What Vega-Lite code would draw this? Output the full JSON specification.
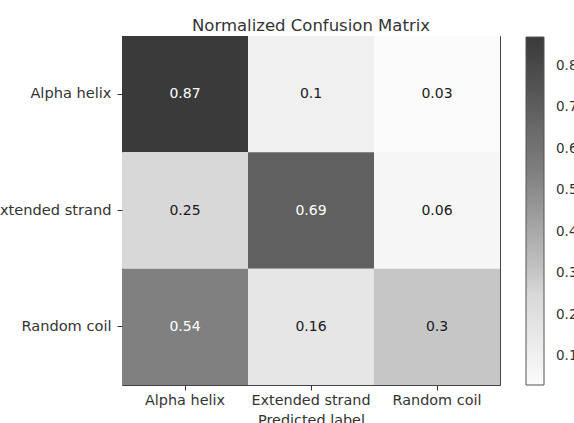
{
  "$schema": "https://vega.github.io/schema/vega-lite/v6.json",
  "autosize": {"type": "none"},
  "padding": {"left": 122, "top": 36, "right": 74, "bottom": 38},
  "width": 378,
  "height": 349,
  "background": "white",
  "title": {"text": "Normalized Confusion Matrix", "fontSize": 16.5, "fontWeight": "normal", "color": "#333333", "offset": 2, "font": "DejaVu Sans"},
  "data": {"values": [
    {"actual": "Alpha helix", "predicted": "Alpha helix", "value": 0.87},
    {"actual": "Alpha helix", "predicted": "Extended strand", "value": 0.1},
    {"actual": "Alpha helix", "predicted": "Random coil", "value": 0.03},
    {"actual": "Extended strand", "predicted": "Alpha helix", "value": 0.25},
    {"actual": "Extended strand", "predicted": "Extended strand", "value": 0.69},
    {"actual": "Extended strand", "predicted": "Random coil", "value": 0.06},
    {"actual": "Random coil", "predicted": "Alpha helix", "value": 0.54},
    {"actual": "Random coil", "predicted": "Extended strand", "value": 0.16},
    {"actual": "Random coil", "predicted": "Random coil", "value": 0.3}
  ]},
  "encoding": {
    "x": {"field": "predicted", "type": "nominal", "sort": ["Alpha helix", "Extended strand", "Random coil"],
      "scale": {"paddingInner": 0, "paddingOuter": 0},
      "axis": {"title": "Predicted label", "labelAngle": 0, "domain": false, "tickSize": 5, "tickColor": "#333333", "labelPadding": 3, "titlePadding": 7, "labelFontSize": 14.4, "titleFontSize": 14.4, "titleFontWeight": "normal", "labelColor": "#333333", "titleColor": "#333333"}},
    "y": {"field": "actual", "type": "nominal", "sort": ["Alpha helix", "Extended strand", "Random coil"],
      "scale": {"paddingInner": 0, "paddingOuter": 0},
      "axis": {"title": null, "domain": false, "tickSize": 5, "tickColor": "#333333", "labelPadding": 6, "labelFontSize": 14.6, "labelColor": "#333333", "labelLimit": 300}}
  },
  "layer": [
    {
      "mark": {"type": "rect"},
      "encoding": {
        "color": {"field": "value", "type": "quantitative",
          "scale": {"domain": [0.03, 0.16, 0.25, 0.3, 0.54, 0.87], "range": ["#fbfbfb", "#e6e6e6", "#d8d8d8", "#c6c6c6", "#808080", "#3a3a3a"], "interpolate": "rgb"},
          "legend": {"title": null, "orient": "none", "legendX": 404, "legendY": 1, "direction": "vertical", "gradientLength": 348, "gradientThickness": 18, "gradientStrokeColor": "#555555", "gradientStrokeWidth": 1, "values": [0.1, 0.2, 0.3, 0.4, 0.5, 0.6, 0.7, 0.8], "labelOffset": 12, "labelFontSize": 13.5, "labelColor": "#333333", "labelOverlap": false, "format": ".1f"}}
      }
    },
    {
      "mark": {"type": "text", "fontSize": 14},
      "encoding": {
        "text": {"field": "value", "type": "quantitative"},
        "color": {"condition": {"test": "datum.value > 0.435", "value": "#ffffff"}, "value": "#1a1a1a"}
      }
    }
  ],
  "config": {
    "font": "DejaVu Sans",
    "view": {"stroke": "#444444", "strokeWidth": 1}
  }
}
